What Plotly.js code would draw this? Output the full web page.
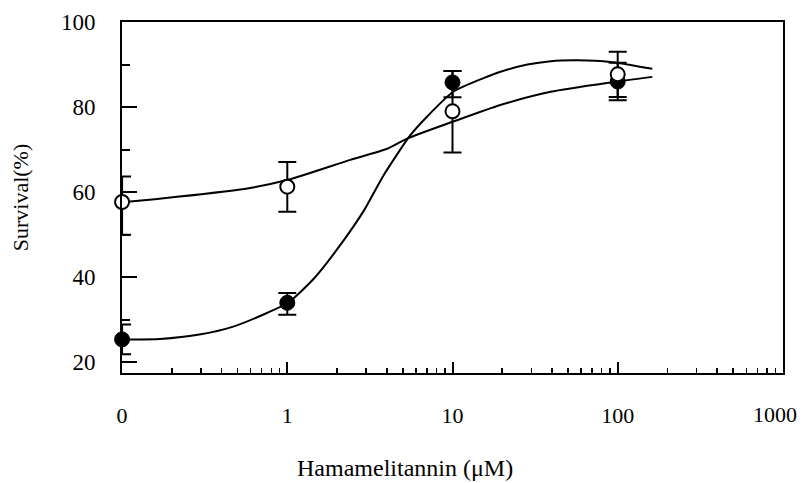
<!DOCTYPE html>
<html>
<head>
<meta charset="utf-8">
<script src="https://cdn.plot.ly/plotly-3.0.1.min.js"></script>
<style>html,body{margin:0;padding:0;background:#fff;}</style>
</head>
<body>
<div id="chart" style="width:803px;height:483px;"></div>
<script>
// Doses (µM); the "0" dose is drawn at the 0.1 position of the log axis
const doses = [0.1, 1, 10, 100];
const tickVals = [0.1, 1, 10, 100, 1000];
const tickText = ["0", "1", "10", "100", "1000"];

// Open circles
const openY = [57.7, 61.3, 79.0, 87.7];
const openErrPlus = [6.0, 5.8, 9.5, 5.3];
const openErrMinus = [7.7, 5.9, 9.7, 5.3];

// Filled circles
const solidY = [25.4, 34.0, 85.8, 86.0];
const solidErrPlus = [3.5, 2.3, 2.7, 4.4];
const solidErrMinus = [3.5, 2.8, 3.5, 4.4];

// Fitted curve (open)
const openFitX = [0.1, 0.112, 0.215, 0.597, 1.01, 2.41, 4.02, 5.31, 10.1, 19.5, 39.3, 90.7, 162];
const openFitY = [57.7, 57.8, 58.9, 61.0, 62.9, 67.6, 70.2, 72.6, 76.6, 80.5, 83.6, 85.8, 87.1];

// Fitted curve (filled)
const solidFitX = [0.1, 0.17, 0.3, 0.471, 0.753, 1.01, 1.45, 2.15, 2.9, 3.83, 5.56, 7.03, 10.1, 15.4, 19.5, 28.4, 39.3, 57.0, 90.7, 162];
const solidFitY = [25.4, 25.5, 26.6, 28.4, 31.6, 34.0, 39.7, 48.2, 55.6, 64.0, 73.4, 77.8, 83.6, 86.8, 88.3, 90.0, 90.8, 91.0, 90.6, 89.0];

const minorVals = [];
[0.1, 1, 10, 100].forEach(d => { for (let k = 2; k <= 9; k++) minorVals.push(d * k); });

// the last label sits at the right edge; it is drawn as an annotation nudged left
const axisTickText = tickText.map((t, i) => i === tickText.length - 1 ? "" : t);

const FONT = "Liberation Serif, Times New Roman, serif";

const traces = [
  {x: openFitX, y: openFitY, type: "scatter", mode: "lines",
   line: {color: "#000", width: 2, shape: "spline", smoothing: 0.6}, hoverinfo: "skip", cliponaxis: false},
  {x: solidFitX, y: solidFitY, type: "scatter", mode: "lines",
   line: {color: "#000", width: 2, shape: "spline", smoothing: 0.6}, hoverinfo: "skip", cliponaxis: false},
  {x: doses, y: solidY, type: "scatter", mode: "markers", cliponaxis: false,
   marker: {symbol: "circle", size: 15, color: "#000", line: {color: "#000", width: 1}},
   error_y: {type: "data", symmetric: false, array: solidErrPlus, arrayminus: solidErrMinus,
             color: "#000", thickness: 2, width: 9}},
  {x: doses, y: openY, type: "scatter", mode: "markers", cliponaxis: false,
   marker: {symbol: "circle", size: 14, color: "#fff", line: {color: "#000", width: 2}},
   error_y: {type: "data", symmetric: false, array: openErrPlus, arrayminus: openErrMinus,
             color: "#000", thickness: 2, width: 9}}
];

const layout = {
  width: 803, height: 483,
  margin: {l: 122, r: 20, t: 22, b: 110},
  paper_bgcolor: "#fff", plot_bgcolor: "#fff",
  showlegend: false,
  font: {family: FONT, size: 22, color: "#000"},
  xaxis: {
    type: "log", range: [-1.0005, 3.0005],
    tickmode: "array", tickvals: tickVals, ticktext: axisTickText,
    ticks: "inside", ticklen: 11, tickwidth: 2, tickcolor: "#000",
    minor: {tickmode: "array", tickvals: minorVals, ticks: "inside", ticklen: 5, tickwidth: 1.5, tickcolor: "#000", showgrid: false},
    showline: true, linecolor: "#000", linewidth: 2, mirror: true,
    showgrid: false, zeroline: false,
    ticklabelstandoff: 22,
    tickfont: {family: FONT, size: 22, color: "#000"}
  },
  yaxis: {
    range: [17.5, 100],
    tickmode: "array", tickvals: [20, 40, 60, 80, 100],
    ticks: "inside", ticklen: 15, tickwidth: 2, tickcolor: "#000",
    minor: {tickmode: "array", tickvals: [30, 50, 70, 90], ticks: "inside", ticklen: 8, tickwidth: 2, tickcolor: "#000", showgrid: false},
    showline: true, linecolor: "#000", linewidth: 2, mirror: true,
    showgrid: false, zeroline: false,
    ticklabelstandoff: 20,
    ticklabeloverflow: "allow",
    tickfont: {family: FONT, size: 23, color: "#000"},
    title: {text: "Survival(%)", font: {family: FONT, size: 22, color: "#000"}, standoff: 26}
  },
  annotations: [
    {
      text: "Hamamelitannin (μM)", xref: "paper", yref: "paper",
      x: (405 - 122) / (783 - 122), y: -(468 - 373) / 351,
      xanchor: "center", yanchor: "middle", showarrow: false,
      font: {family: FONT, size: 24, color: "#000"}
    },
    {
      text: tickText[tickText.length - 1], xref: "x", yref: "paper",
      x: Math.log10(tickVals[tickVals.length - 1]), y: -(414 - 373) / 351,
      xanchor: "center", yanchor: "middle", xshift: -8, showarrow: false,
      font: {family: FONT, size: 22, color: "#000"}
    }
  ]
};

Plotly.newPlot("chart", traces, layout, {displayModeBar: false, staticPlot: true});
</script>
</body>
</html>
